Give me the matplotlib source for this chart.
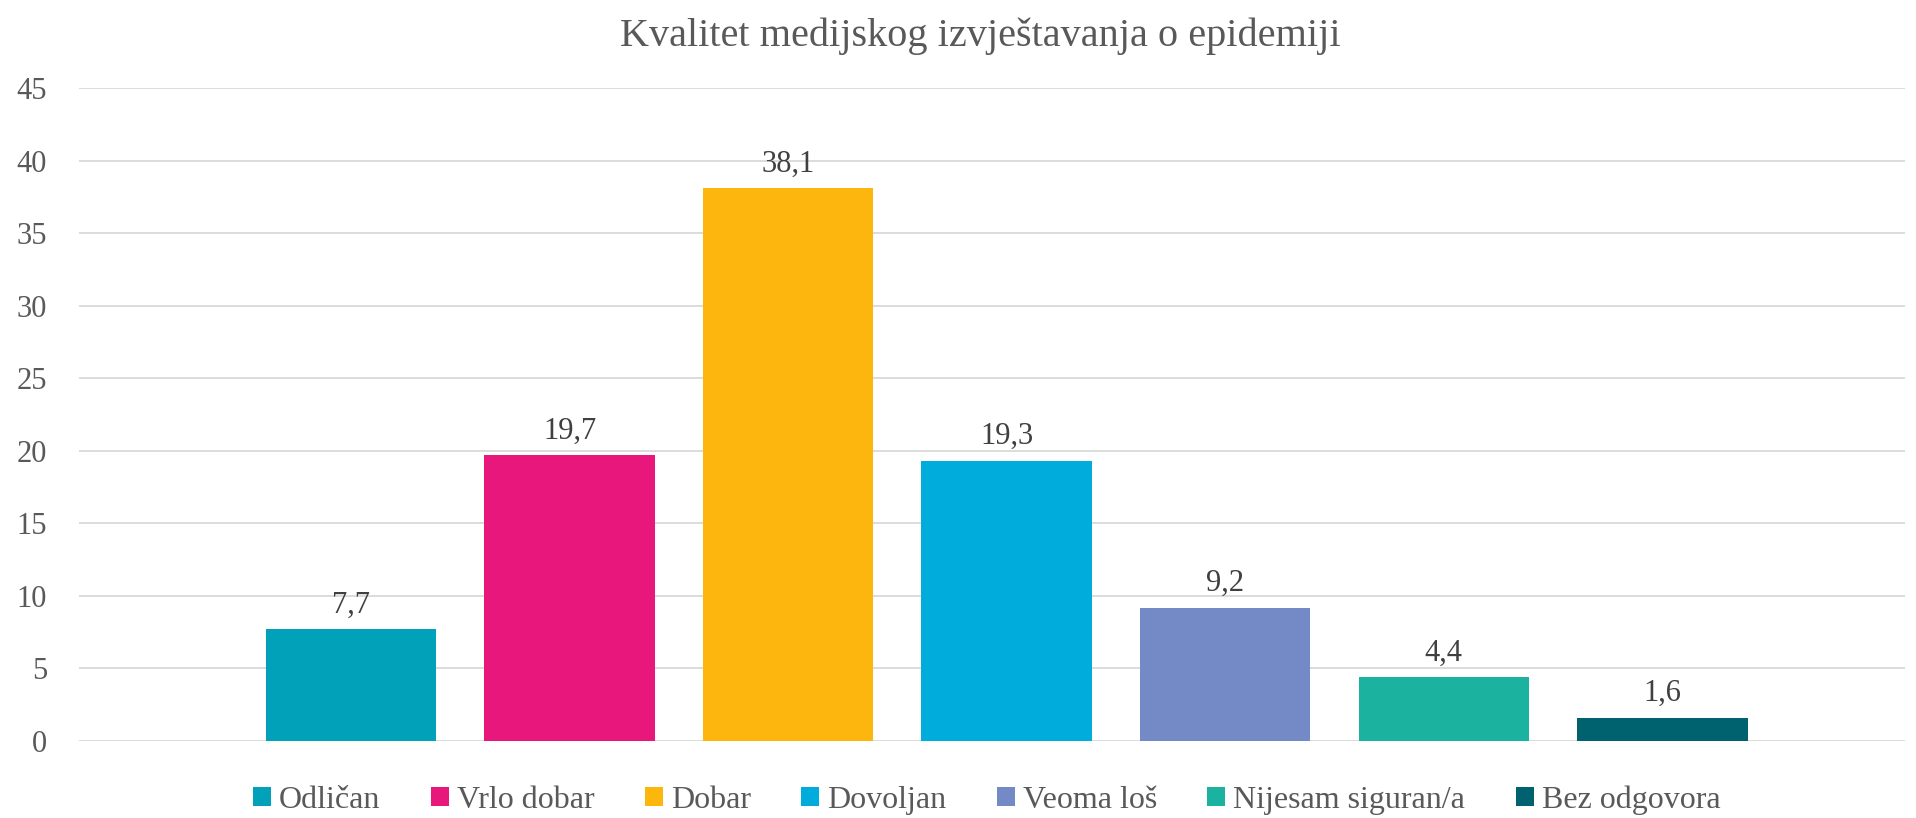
import matplotlib.pyplot as plt
from matplotlib.patches import Patch

CATEGORIES = ["Odličan", "Vrlo dobar", "Dobar", "Dovoljan", "Veoma loš",
              "Nijesam siguran/a", "Bez odgovora"]
VALUES = [7.7, 19.7, 38.1, 19.3, 9.2, 4.4, 1.6]
COLORS = ["#00A1B9", "#E8177C", "#FDB60D", "#00ACDC", "#738AC6", "#1BB39F", "#00616F"]
YTICKS = [0, 5, 10, 15, 20, 25, 30, 35, 40, 45]

TITLE = "Kvalitet medijskog izvještavanja o epidemiji"
TEXT = "#595959"
LABEL = "#404040"
GRID = "#D9D9D9"
FONT = ["Liberation Serif", "DejaVu Serif"]

plt.rcParams["font.family"] = FONT

fig = plt.figure(figsize=(19.16, 8.18), dpi=100, facecolor="white")
ax = fig.add_axes([0.0412, 0.0941, 0.9530, 0.7983])

x = list(range(len(VALUES)))
bars = ax.bar(x, VALUES, width=0.78, color=COLORS, zorder=3)
labels = [f"{v:.1f}".replace(".", ",") for v in VALUES]
ax.bar_label(bars, labels=labels, padding=7, fontsize=22, color=LABEL)

ax.set_xlim(-1.245, 7.11)
ax.set_ylim(0, 45)
ax.set_yticks(YTICKS)
ax.set_yticklabels([str(t) for t in YTICKS], fontsize=22, color=TEXT)
ax.tick_params(axis="y", length=0, pad=23)
ax.set_xticks([])
ax.grid(axis="y", color=GRID, linewidth=1.3, zorder=0)
for s in ax.spines.values():
    s.set_visible(False)

fig.suptitle(TITLE, x=0.5115, fontsize=29, color=TEXT, y=0.978)

handles = [Patch(facecolor=c, edgecolor="none") for c in COLORS]
fig.legend(handles, CATEGORIES, loc="lower center", bbox_to_anchor=(0.515, -0.031),
           ncol=len(CATEGORIES), frameon=False,
           prop={"family": FONT, "size": 23}, labelcolor=TEXT,
           handlelength=0.56, handleheight=0.56, handletextpad=0.25, columnspacing=1.58)

plt.savefig("out.png", dpi=100, facecolor="white")
